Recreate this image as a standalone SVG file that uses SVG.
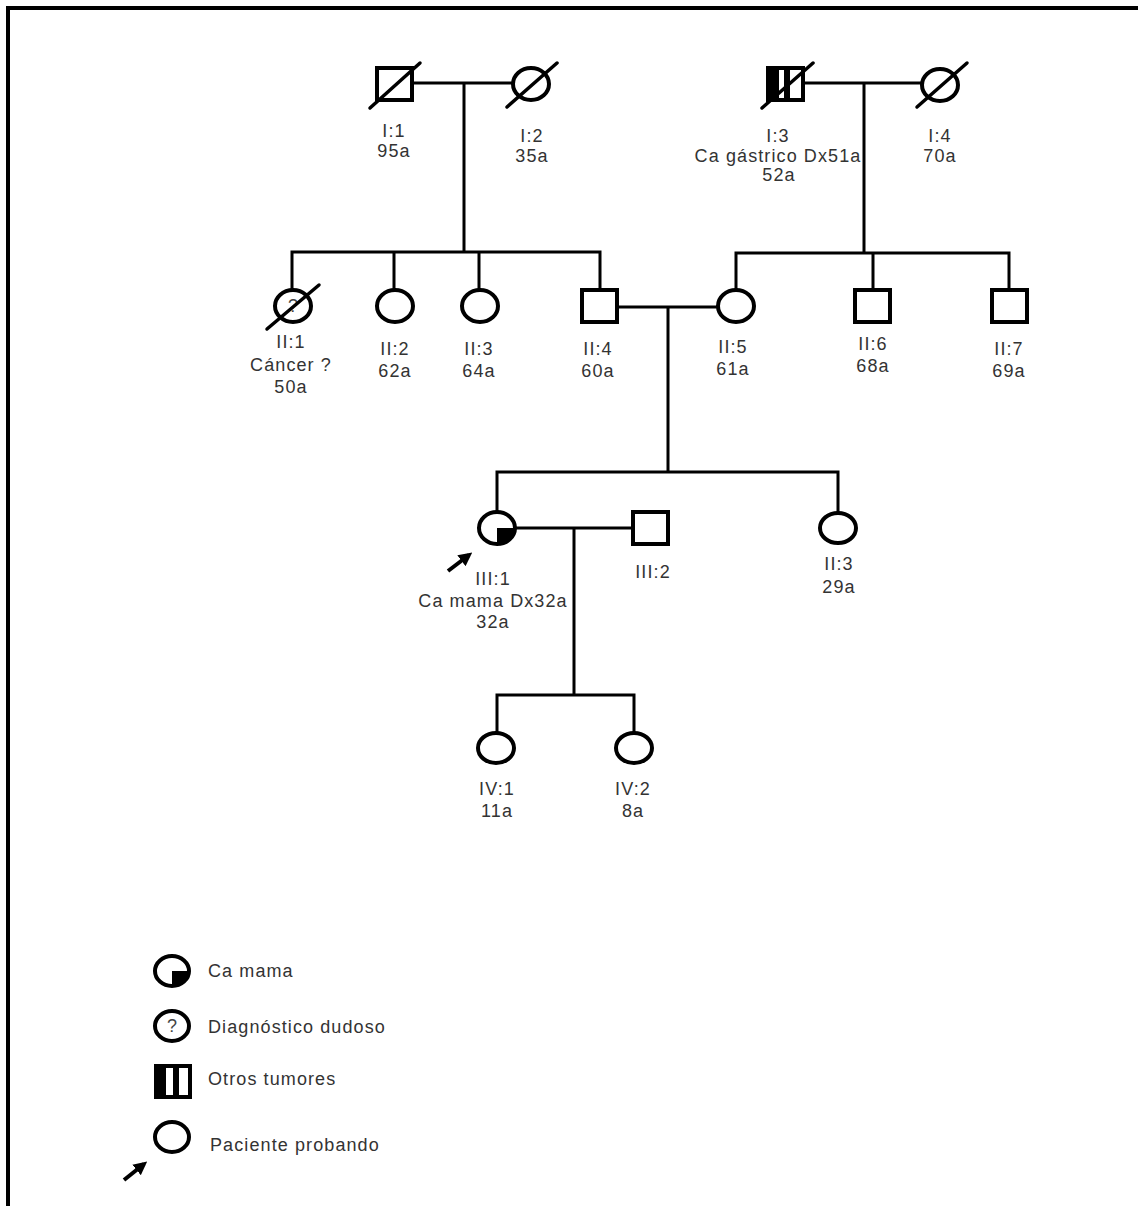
<svg xmlns="http://www.w3.org/2000/svg" width="1138" height="1206" viewBox="0 0 1138 1206">
<style>
.sym{fill:#fff;stroke:#000;stroke-width:4}
.ln{fill:none;stroke:#000;stroke-width:3;stroke-linecap:square}
.dec{stroke:#000;stroke-width:3.5;stroke-linecap:round}
.t{font-family:"Liberation Sans",Arial,sans-serif;font-size:18px;letter-spacing:1.1px;fill:#333;text-anchor:middle}
.lg{font-family:"Liberation Sans",Arial,sans-serif;font-size:18px;letter-spacing:1.1px;fill:#333}
.q{font-family:"Liberation Sans",Arial,sans-serif;font-size:18px;fill:#444;text-anchor:middle}
.arr{stroke:#000;stroke-width:4;fill:none}
</style>
<defs>
<marker id="ah" viewBox="0 0 10 10" refX="7" refY="5" markerWidth="3.4" markerHeight="3.4" orient="auto" markerUnits="strokeWidth">
<path d="M0,0 L10,5 L0,10 z" fill="#000"/>
</marker>
</defs>
<rect width="1138" height="1206" fill="#fff"/>
<rect x="8" y="8" width="1200" height="1260" fill="none" stroke="#000" stroke-width="4"/>

<g id="connectors">
<path class="ln" d="M412,83 H513 M464,83 V252 M292,252 H600 M292,252 V290 M394,252 V290 M479,252 V290 M600,252 V290"/>
<path class="ln" d="M803,83 H922 M864,83 V253 M736,253 H1009 M736,253 V290 M873,253 V290 M1009,253 V290"/>
<path class="ln" d="M617,307 H718 M668,307 V472 M497,472 H838 M497,472 V512 M838,472 V513"/>
<path class="ln" d="M515,528 H633 M574,528 V695 M497,695 H634 M497,695 V733 M634,695 V733"/>
</g>

<g id="I1">
<rect class="sym" x="377" y="68" width="35" height="32"/>
<line class="dec" x1="370" y1="108" x2="420" y2="63"/>
<text class="t" x="394" y="137">I:1</text>
<text class="t" x="394" y="157">95a</text>
</g>
<g id="I2">
<ellipse class="sym" cx="531" cy="84" rx="18" ry="16"/>
<line class="dec" x1="507" y1="107" x2="557" y2="63"/>
<text class="t" x="532" y="142">I:2</text>
<text class="t" x="532" y="162">35a</text>
</g>
<g id="I3">
<rect class="sym" x="768" y="68" width="35" height="32"/>
<rect x="768" y="68" width="11" height="32" fill="#000"/>
<rect x="784" y="68" width="6" height="32" fill="#000"/>
<line class="dec" x1="762" y1="108" x2="813" y2="63"/>
<text class="t" x="778" y="142">I:3</text>
<text class="t" x="778" y="162">Ca gástrico Dx51a</text>
<text class="t" x="779" y="181">52a</text>
</g>
<g id="I4">
<ellipse class="sym" cx="940" cy="85" rx="18" ry="16"/>
<line class="dec" x1="917" y1="107" x2="967" y2="63"/>
<text class="t" x="940" y="142">I:4</text>
<text class="t" x="940" y="162">70a</text>
</g>

<g id="II1">
<ellipse class="sym" cx="293" cy="306" rx="18" ry="16"/>
<text class="q" x="293" y="312">?</text>
<line class="dec" x1="267" y1="329" x2="319" y2="285"/>
<text class="t" x="291" y="348">II:1</text>
<text class="t" x="291" y="371">Cáncer ?</text>
<text class="t" x="291" y="393">50a</text>
</g>
<g id="II2">
<ellipse class="sym" cx="395" cy="306" rx="18" ry="16"/>
<text class="t" x="395" y="355">II:2</text>
<text class="t" x="395" y="377">62a</text>
</g>
<g id="II3">
<ellipse class="sym" cx="480" cy="306" rx="18" ry="16"/>
<text class="t" x="479" y="355">II:3</text>
<text class="t" x="479" y="377">64a</text>
</g>
<g id="II4">
<rect class="sym" x="582" y="290" width="35" height="32"/>
<text class="t" x="598" y="355">II:4</text>
<text class="t" x="598" y="377">60a</text>
</g>
<g id="II5">
<ellipse class="sym" cx="736" cy="306" rx="18" ry="16"/>
<text class="t" x="733" y="353">II:5</text>
<text class="t" x="733" y="375">61a</text>
</g>
<g id="II6">
<rect class="sym" x="855" y="290" width="35" height="32"/>
<text class="t" x="873" y="350">II:6</text>
<text class="t" x="873" y="372">68a</text>
</g>
<g id="II7">
<rect class="sym" x="992" y="290" width="35" height="32"/>
<text class="t" x="1009" y="355">II:7</text>
<text class="t" x="1009" y="377">69a</text>
</g>

<g id="III1">
<ellipse class="sym" cx="497" cy="528" rx="18" ry="16"/>
<path d="M497,528 H515 A18,16 0 0 1 497,544 Z" fill="#000"/>
<line class="arr" x1="448" y1="571" x2="469" y2="555" marker-end="url(#ah)"/>
<text class="t" x="493" y="585">III:1</text>
<text class="t" x="493" y="607">Ca mama Dx32a</text>
<text class="t" x="493" y="628">32a</text>
</g>
<g id="III2">
<rect class="sym" x="633" y="512" width="35" height="32"/>
<text class="t" x="653" y="578">III:2</text>
</g>
<g id="III3">
<ellipse class="sym" cx="838" cy="528" rx="18" ry="15"/>
<text class="t" x="839" y="570">II:3</text>
<text class="t" x="839" y="593">29a</text>
</g>

<g id="IV1">
<ellipse class="sym" cx="496" cy="748" rx="18" ry="15"/>
<text class="t" x="497" y="795">IV:1</text>
<text class="t" x="497" y="817">11a</text>
</g>
<g id="IV2">
<ellipse class="sym" cx="634" cy="748" rx="18" ry="15"/>
<text class="t" x="633" y="795">IV:2</text>
<text class="t" x="633" y="817">8a</text>
</g>

<g id="legend">
<ellipse class="sym" cx="172" cy="971" rx="17" ry="15"/>
<path d="M172,971 H189 A17,15 0 0 1 172,986 Z" fill="#000"/>
<text class="lg" x="208" y="977">Ca mama</text>
<ellipse class="sym" cx="172" cy="1026" rx="17" ry="15"/>
<text class="q" x="172" y="1032">?</text>
<text class="lg" x="208" y="1033">Diagnóstico dudoso</text>
<rect class="sym" x="156" y="1066" width="34" height="31"/>
<rect x="156" y="1066" width="10" height="31" fill="#000"/>
<rect x="173" y="1066" width="6" height="31" fill="#000"/>
<text class="lg" x="208" y="1085">Otros tumores</text>
<ellipse class="sym" cx="172" cy="1137" rx="17" ry="15"/>
<line class="arr" x1="124" y1="1180" x2="144" y2="1164" marker-end="url(#ah)"/>
<text class="lg" x="210" y="1151">Paciente probando</text>
</g>
</svg>
